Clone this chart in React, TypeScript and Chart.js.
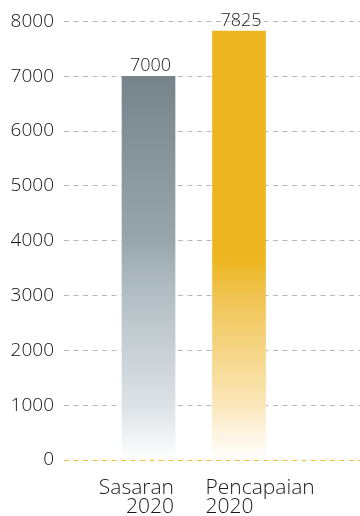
import React, { useEffect, useRef } from "react";
import { Chart, registerables } from "chart.js";

Chart.register(...registerables);

const categories: string[][] = [["Sasaran", "2020"], ["Pencapaian", "2020"]];
const values: number[] = [7000, 7825];
const yTicks: number[] = [0, 1000, 2000, 3000, 4000, 5000, 6000, 7000, 8000];

const FONT = "'Open Sans'";

const grayStops: [number, string][] = [
  [0, "#77838a"],
  [0.43, "#99a7ad"],
  [0.57, "#b3bfc5"],
  [0.86, "#dde2e6"],
  [1, "#ffffff"],
];
const yellowStops: [number, string][] = [
  [0, "#edb51f"],
  [0.53, "#edb51f"],
  [0.62, "#f0c452"],
  [0.87, "#fae6b8"],
  [0.93, "#fdf2dc"],
  [1, "#ffffff"],
];

export default function App() {
  const ref = useRef<HTMLCanvasElement | null>(null);

  useEffect(() => {
    if (!ref.current) return;

    const labelPlugin = {
      id: "labels",
      afterDatasetsDraw(chart: any) {
        const ctx = chart.ctx;
        const meta = chart.getDatasetMeta(0);
        ctx.save();
        ctx.fillStyle = "#1a1a1a";
        ctx.font = `300 18px ${FONT}`;
        ctx.textAlign = "center";
        ctx.textBaseline = "alphabetic";
        meta.data.forEach((bar: any, i: number) => {
          ctx.fillText(String(values[i]), bar.x + 2, bar.y - 5);
        });
        ctx.font = `300 21px ${FONT}`;
        meta.data.forEach((bar: any, i: number) => {
          const half = bar.width / 2;
          const lines = categories[i];
          if (i === 0) {
            ctx.textAlign = "right";
            lines.forEach((l, k) => ctx.fillText(l, bar.x + half - 1, 494 + k * 19));
          } else {
            ctx.textAlign = "left";
            lines.forEach((l, k) => ctx.fillText(l, bar.x - half - 7, 494 + k * 19));
          }
        });
        ctx.restore();
      },
    };

    const makeGrad = (ctx: any, i: number) => {
      const chart = ctx.chart;
      const area = chart.chartArea;
      if (!area) return "#999";
      const y = chart.scales.y;
      const top = y.getPixelForValue(values[i]);
      const bottom = y.getPixelForValue(0);
      const g = chart.ctx.createLinearGradient(0, top, 0, bottom);
      (i === 0 ? grayStops : yellowStops).forEach(([s, c]) => g.addColorStop(s, c));
      return g;
    };

    const chart = new Chart(ref.current, {
      type: "bar",
      data: {
        datasets: [
          {
            data: values.map((v, i) => ({ x: i + 1, y: v })),
            backgroundColor: (c: any) => makeGrad(c, c.dataIndex),
            borderWidth: 0,
            barThickness: 53,
          },
        ],
      },
      options: {
        responsive: false,
        animation: false,
        layout: { padding: { top: 17, bottom: 56, right: 0, left: 0 } },
        plugins: { legend: { display: false }, tooltip: { enabled: false } },
        scales: {
          x: {
            type: "linear",
            display: false,
            offset: false,
            min: 0.066,
            max: 3.337,
          },
          y: {
            min: 0,
            max: 8000,
            afterFit(scale: any) {
              scale.width = 64;
            },
            afterBuildTicks(scale: any) {
              scale.ticks = yTicks.map((v) => ({ value: v }));
            },
            ticks: {
              padding: 10,
              color: "#111",
              font: { family: "Open Sans", size: 19, weight: "300" },
              callback: (v: any) => String(v),
            },
            grid: {
              drawTicks: false,
              lineWidth: 1,
              color: (c: any) => (c.tick && c.tick.value === 0 ? "#f0bf3c" : "#b8b8b8"),
            },
            border: { display: false, dash: [5, 4.5] },
          },
        },
      },
      plugins: [labelPlugin],
    });
    return () => chart.destroy();
  }, []);

  return (
    <div style={{ position: "absolute", left: 0, top: 0, width: 360, height: 516, background: "#fff" }}>
      <canvas ref={ref} width={360} height={516} style={{ display: "block" }} />
    </div>
  );
}
